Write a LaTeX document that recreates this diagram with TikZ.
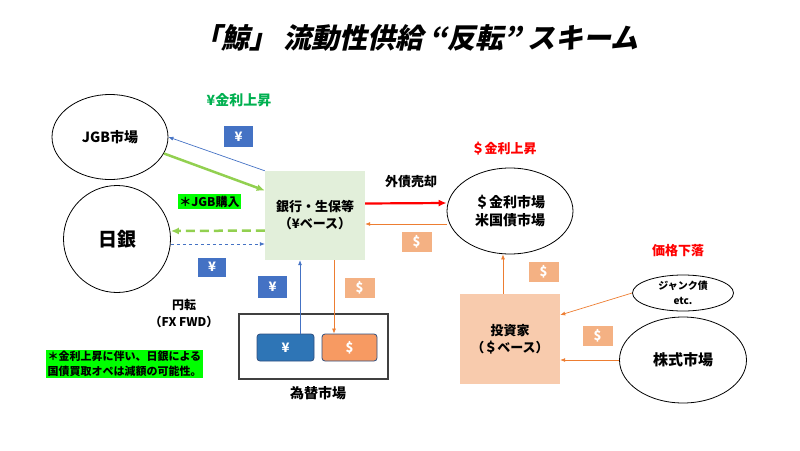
\documentclass[tikz,border=0pt]{standalone}
\usepackage{fontspec}
\setmainfont{Noto Sans CJK JP}
\newfontfamily\titlefont{Noto Sans CJK JP}[FakeSlant=0.22]
\usetikzlibrary{arrows.meta, positioning, shapes.geometric}
\definecolor{JBlue}{HTML}{4472C4}
\definecolor{JBlueDark}{HTML}{2E75B6}
\definecolor{JPillEdge}{HTML}{2F4F7F}
\definecolor{JGreen}{HTML}{92D050}
\definecolor{JGreenText}{HTML}{00B050}
\definecolor{JLime}{HTML}{00FF00}
\definecolor{JOrange}{HTML}{ED7D31}
\definecolor{JOrangeTag}{HTML}{F4B183}
\definecolor{JOrangePill}{HTML}{F79A62}
\definecolor{JBankFill}{HTML}{E2EFDA}
\definecolor{JInvFill}{HTML}{F8CBAD}
\definecolor{JRed}{HTML}{FF0000}
\definecolor{JFrame}{HTML}{404040}
\tikzset{
    market/.style={
        ellipse,
        draw=black,
        line width=0.8pt,
        inner sep=0pt,
        align=center,
        font=\fontsize{14}{18}\selectfont\bfseries
    },
    flatblock/.style={
        rectangle,
        inner sep=0pt,
        align=center,
        font=\fontsize{13}{17}\selectfont\bfseries
    },
    tag/.style={
        rectangle,
        inner sep=0pt,
        minimum width=30pt,
        minimum height=20pt,
        text=white,
        font=\fontsize{13}{15}\selectfont\bfseries
    },
    yentag/.style={tag, fill=JBlue},
    dollartag/.style={tag, fill=JOrangeTag},
    pill/.style={
        rectangle,
        rounded corners=3pt,
        draw=JPillEdge,
        line width=0.8pt,
        minimum height=27pt,
        text=white,
        font=\fontsize{13}{15}\selectfont\bfseries
    },
    thinarrow/.style={
        ->,
        >={Latex[length=5pt, width=4pt]},
        line width=0.7pt
    },
    thickarrow/.style={
        ->,
        >={Latex[length=8pt, width=7pt]},
        line width=2.5pt
    },
    labeltext/.style={
        font=\fontsize{13}{15}\selectfont\bfseries
    }
}

\begin{document}
\begin{tikzpicture}[x=1pt, y=-1pt]
    \useasboundingbox (0,0) rectangle (800,450);

    % Title
    \node[font=\fontsize{28}{30}\selectfont\titlefont\bfseries] (title) at (416,38) {「鯨」 流動性供給 “反転” スキーム};

    % Markets and players
    \node[market, minimum width=116pt, minimum height=85pt] (jgb) at (110,137) {JGB市場};
    \node[market, minimum width=107pt, minimum height=107pt, font=\fontsize{19}{22}\selectfont\bfseries] (boj) at (117,239) {日銀};
    \node[flatblock, fill=JBankFill, minimum width=100pt, minimum height=89pt] (bank) at (315,215.5) {銀行・生保等\\（¥ベース）};
    \node[market, minimum width=126pt, minimum height=86pt] (usm) at (510,211) {＄金利市場\\米国債市場};
    \node[flatblock, fill=JInvFill, minimum width=100pt, minimum height=90pt] (inv) at (510,339) {投資家\\（＄ベース）};
    \node[market, minimum width=101pt, minimum height=36pt, font=\fontsize{10}{15}\selectfont\bfseries] (junk) at (683,293) {ジャンク債\\etc.};
    \node[market, minimum width=127pt, minimum height=86pt, font=\fontsize{15}{18}\selectfont\bfseries] (stock) at (683,360) {株式市場};

    % FX market
    \node[draw=JFrame, line width=1.2pt, minimum width=149pt, minimum height=65pt, inner sep=0pt] (fx) at (313.5,346.5) {};
    \node[pill, fill=JBlueDark, minimum width=57pt] (yenpill) at (285.5,347.5) {¥};
    \node[pill, fill=JOrangePill, minimum width=55pt] (dolpill) at (349.5,347.5) {\$};
    \node[labeltext, font=\fontsize{14}{16}\selectfont\bfseries] (fxlabel) at (318,393) {為替市場};

    % Yen side flows
    \draw[thinarrow, JBlue] (bank.north west) -- (jgb.east);
    \draw[thickarrow, JGreen] (jgb.-17) -- ([yshift=25pt]bank.west);
    \draw[thickarrow, JGreen, dash pattern=on 9pt off 5pt] ([yshift=-15pt]bank.west) -- ([yshift=8pt]boj.east);
    \draw[thinarrow, JBlue, dashed] ([yshift=-5pt]boj.east) -- ([yshift=-28.5pt]bank.west);
    \draw[thinarrow, JBlue] ([xshift=14.5pt]yenpill.north) -- ([xshift=-15pt]bank.south);
    \draw[thinarrow, JOrange] ([xshift=19pt]bank.south) -- ([xshift=-15.5pt]dolpill.north);

    % Dollar side flows
    \draw[thickarrow, JRed, line width=2.2pt] ([yshift=12pt]bank.east) -- ([yshift=8pt]usm.west);
    \draw[thinarrow, JOrange] ([yshift=-13pt]usm.west) -- ([yshift=-8.5pt]bank.east);
    \draw[thinarrow, JOrange] ([xshift=-7pt]inv.north) -- ([xshift=-7pt]usm.south);
    \draw[thinarrow, JOrange] (junk.west) -- ([yshift=24pt]inv.east);
    \draw[thinarrow, JOrange] (stock.west) -- ([yshift=-21pt]inv.east);

    % Currency tags
    \node[yentag, minimum width=29pt, minimum height=21pt] (yen1) at (238.5,136.5) {¥};
    \node[yentag, minimum width=28pt, minimum height=19pt] (yen2) at (212,267) {¥};
    \node[yentag, minimum width=29pt, minimum height=22pt] (yen3) at (272.5,287) {¥};
    \node[dollartag] (dol1) at (359.5,288) {\$};
    \node[dollartag] (dol2) at (416.5,242) {\$};
    \node[dollartag] (dol3) at (543.5,272) {\$};
    \node[dollartag] (dol4) at (597.5,336) {\$};

    % Labels
    \node[labeltext, text=JGreenText, font=\fontsize{14}{16}\selectfont\bfseries] (yenrate) at (239,100) {¥金利上昇};
    \node[labeltext, text=JRed] (usdrate) at (504,149) {＄金利上昇};
    \node[labeltext, text=JRed] (pricedrop) at (678,251) {価格下落};
    \node[labeltext] (sellfx) at (411,182) {外債売却};
    \node[labeltext, fill=JLime, font=\fontsize{12}{15}\selectfont\bfseries, inner sep=1.5pt] (jgbbuy) at (209.5,201.5) {＊JGB購入};
    \node[labeltext, align=center, font=\fontsize{12}{17}\selectfont\bfseries] (yenconv) at (184,313) {円転\\（FX FWD）};
    \node[fill=JLime, align=left, inner sep=1.5pt, font=\fontsize{11}{14.5}\selectfont\bfseries] (note) at (124.5,364) {＊金利上昇に伴い、日銀による\\国債買取オペは減額の可能性。};
\end{tikzpicture}
\end{document}
